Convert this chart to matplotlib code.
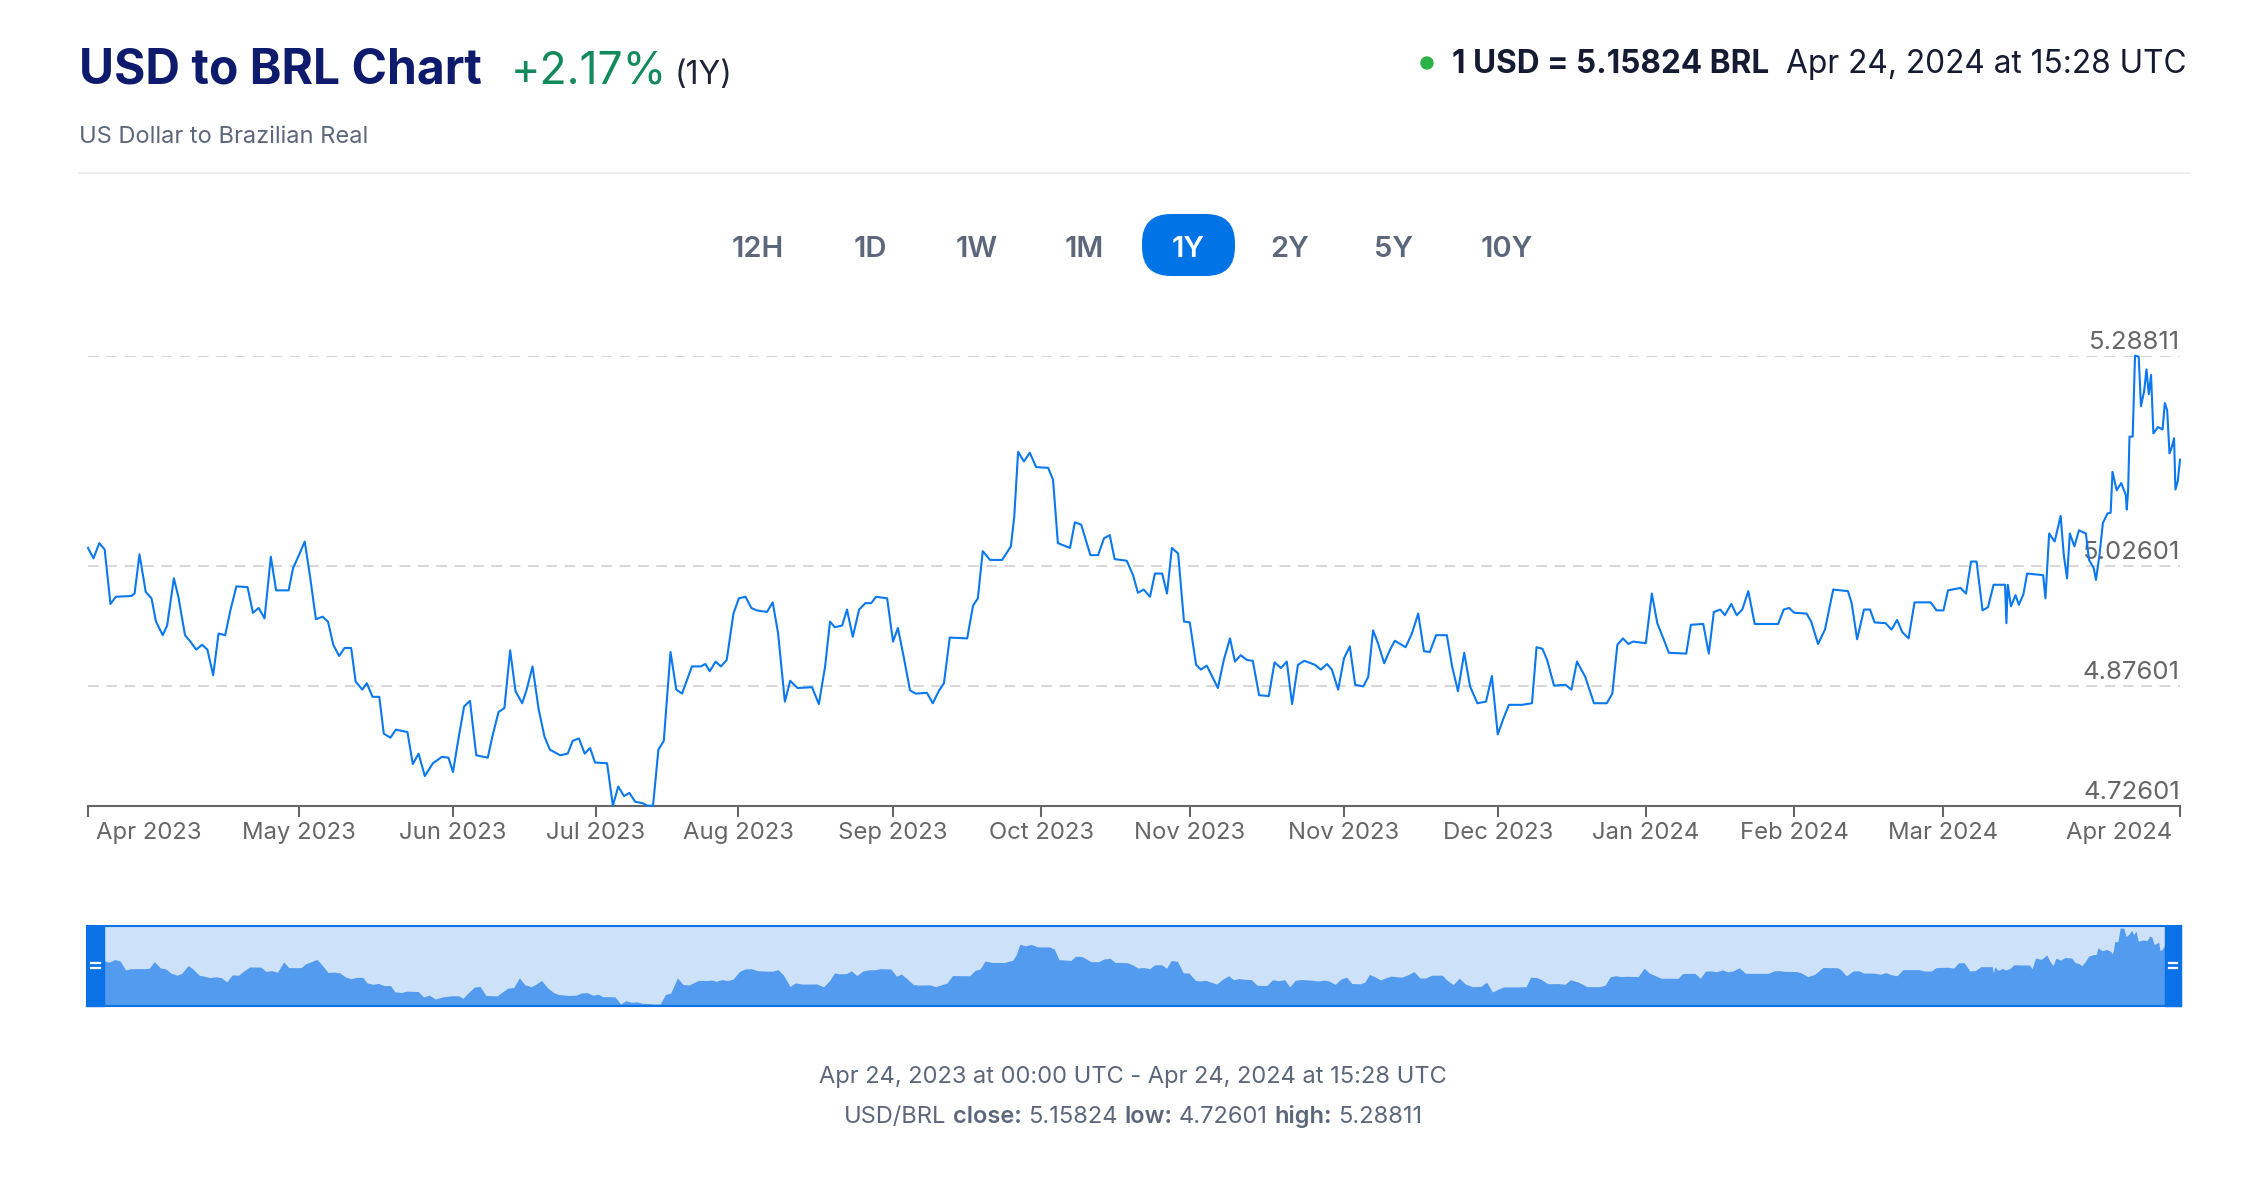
import matplotlib
matplotlib.use('Agg')
import matplotlib.pyplot as plt
from matplotlib.patches import FancyBboxPatch, Rectangle, Circle
from matplotlib.lines import Line2D
from matplotlib.transforms import ScaledTranslation

W, H = 2262, 1186
plt.rcParams['font.family'] = ['Inter', 'DejaVu Sans']

# ---- data: USD/BRL close, x = trading session index (ordinal axis) ----
session = [0.0, 0.68, 1.41, 2.08, 2.80, 3.47, 5.42, 5.81, 6.42, 7.20, 7.92, 8.48, 9.32, 9.87,
           10.71, 11.27, 12.10, 12.77, 13.49, 14.22, 14.89, 15.61, 16.28, 17.11, 17.78, 18.51,
           19.90, 20.57, 21.29, 22.02, 22.80, 23.46, 25.02, 25.58, 26.31, 27.03, 27.70, 28.42,
           29.26, 29.93, 30.59, 31.32, 31.99, 32.82, 33.38, 34.21, 34.77, 35.49, 36.33, 36.89,
           37.72, 38.39, 39.84, 40.51, 41.23, 42.01, 43.01, 44.13, 44.96, 45.52, 46.24, 46.91,
           47.64, 48.42, 49.86, 50.42, 51.20, 51.93, 52.65, 53.32, 54.15, 54.71, 55.44, 56.21,
           56.94, 57.61, 58.89, 59.83, 60.45, 61.23, 61.95, 62.62, 63.23, 64.74, 65.46, 66.13,
           66.85, 67.52, 68.24, 69.19, 69.75, 70.47, 71.14, 71.81, 72.65, 73.37, 74.09, 75.32,
           76.43, 76.99, 77.55, 78.27, 78.94, 79.66, 80.50, 81.17, 82.00, 82.73, 83.39,
           84.68, 85.40, 86.07, 86.91, 87.58, 88.49, 90.30, 91.15, 91.93, 92.54, 93.14, 94.05,
           94.66, 95.38, 96.17, 96.95, 97.68, 98.28, 99.67, 100.40, 101.01, 101.73, 102.52,
           103.24, 104.63, 105.36, 106.15, 106.75, 107.48, 109.65, 110.38, 110.98, 111.59,
           112.50, 114.01, 115.10, 115.52, 116.00, 116.73, 117.46, 118.24, 119.75, 120.36,
           120.96, 122.47, 123.08, 123.87, 125.02, 125.98, 126.71, 127.43, 128.04, 129.55,
           130.34, 130.94, 131.67, 132.45, 133.06, 133.97, 134.57, 135.18, 135.96, 136.69,
           137.41, 138.20, 138.80, 139.53, 140.13, 140.92, 141.65, 142.43, 143.04, 143.76,
           144.55, 145.27, 146.06, 147.27, 147.98, 148.78, 149.51, 150.17, 150.90, 151.69,
           153.02, 153.74, 154.53, 155.13, 155.92, 156.64, 157.37, 158.04, 159.06, 159.67,
           160.27, 160.88, 161.66, 162.39, 162.99, 164.33, 165.11, 165.90, 166.62, 167.35,
           168.13, 169.47, 170.13, 170.86, 171.64, 172.37, 173.28, 174.36, 175.09, 175.82,
           176.53, 177.22, 178.83, 180.09, 180.66, 181.40, 181.98, 182.84, 184.27, 185.01,
           185.70, 186.73, 187.82, 189.42, 190.11, 190.74, 191.43, 192.11, 192.69, 194.29,
           195.04, 195.72, 196.47, 197.16, 199.33, 199.91, 201.45, 202.14, 202.77, 203.57,
           204.14, 204.95, 205.63, 206.32, 207.07, 207.87, 210.79, 211.48, 212.16, 212.80,
           214.34, 214.91, 215.77, 216.63, 217.66, 219.50, 219.96, 220.64, 221.50, 222.25,
           222.82, 224.19, 224.94, 225.63, 226.26, 227.06, 227.80, 229.81, 230.55, 231.41,
           231.98, 233.53, 234.22, 234.85, 235.54, 236.28, 236.97, 237.66, 239.09, 239.26,
           239.43, 239.83, 240.40, 240.81, 241.38, 241.84, 243.84, 244.13, 244.59, 245.28,
           246.02, 246.42, 246.82, 247.17, 247.74, 248.31, 249.17, 249.57, 250.15, 250.43,
           250.89, 251.29, 251.86, 252.26, 252.49, 253.01, 253.58, 254.15, 254.27, 254.44,
           254.61, 255.01, 255.30, 255.76, 256.04, 256.44, 256.73, 257.02, 257.30, 257.59,
           258.16, 258.74, 259.02, 259.31, 259.60, 259.89, 260.17, 260.34, 260.63, 260.91]
usd_brl = [5.048, 5.035, 5.054, 5.046, 4.978, 4.987, 4.988, 4.991, 5.040, 4.993, 4.985, 4.956,
           4.939, 4.951, 5.010, 4.987, 4.939, 4.931, 4.921, 4.927, 4.921, 4.889, 4.941, 4.939,
           4.971, 5.000, 4.999, 4.967, 4.973, 4.960, 5.037, 4.995, 4.995, 5.023, 5.039, 5.056,
           5.012, 4.959, 4.962, 4.956, 4.927, 4.913, 4.923, 4.923, 4.881, 4.871, 4.879, 4.862,
           4.862, 4.816, 4.811, 4.821, 4.818, 4.778, 4.791, 4.763, 4.779, 4.787, 4.786, 4.768,
           4.812, 4.850, 4.857, 4.789, 4.786, 4.812, 4.843, 4.848, 4.920, 4.869, 4.854, 4.871,
           4.900, 4.846, 4.812, 4.796, 4.789, 4.791, 4.807, 4.810, 4.791, 4.798, 4.780, 4.779,
           4.726, 4.750, 4.738, 4.742, 4.731, 4.729, 4.72601, 4.72601, 4.796, 4.807, 4.918,
           4.871, 4.866, 4.900, 4.900, 4.903, 4.894, 4.906, 4.900, 4.908, 4.966, 4.985, 4.987,
           4.973, 4.970,
           4.968, 4.980, 4.941, 4.856, 4.882, 4.873, 4.874, 4.853, 4.900, 4.956, 4.949, 4.951,
           4.971, 4.937, 4.971, 4.979, 4.979, 4.987, 4.985, 4.931, 4.948, 4.912, 4.870, 4.866,
           4.867, 4.854, 4.870, 4.879, 4.936, 4.935, 4.976, 4.985, 5.044, 5.033, 5.033, 5.050,
           5.087, 5.168, 5.156, 5.167, 5.149, 5.148, 5.133, 5.054, 5.048, 5.080, 5.077, 5.039,
           5.039, 5.060, 5.064, 5.034, 5.032, 5.014, 4.992, 4.996, 4.987, 5.016, 5.016, 4.991,
           5.048, 5.041, 4.956, 4.955, 4.902, 4.896, 4.901, 4.889, 4.873, 4.908, 4.935, 4.906,
           4.914, 4.908, 4.907, 4.864, 4.863, 4.905, 4.898, 4.906, 4.853, 4.902, 4.907, 4.902,
           4.896, 4.903, 4.896, 4.871, 4.910, 4.925, 4.877, 4.875, 4.887, 4.945, 4.929, 4.904,
           4.921, 4.932, 4.924, 4.941, 4.966, 4.919, 4.918, 4.939, 4.939, 4.900, 4.869, 4.917,
           4.875, 4.854, 4.856, 4.888, 4.815,
           4.835, 4.852, 4.852, 4.854, 4.924, 4.922, 4.908, 4.876, 4.877, 4.871, 4.906, 4.887,
           4.854, 4.854, 4.866, 4.927, 4.935, 4.928, 4.931, 4.929, 4.991, 4.954, 4.935, 4.917,
           4.916, 4.952, 4.953, 4.916, 4.968, 4.971, 4.964, 4.978, 4.964, 4.971, 4.994, 4.953,
           4.953, 4.971, 4.973, 4.967, 4.966, 4.956, 4.928, 4.946, 4.996, 4.994, 4.979, 4.934,
           4.971, 4.971, 4.955, 4.954, 4.946, 4.958, 4.943, 4.935, 4.980, 4.980, 4.970, 4.970,
           4.995, 4.998, 4.991, 5.031, 5.031, 4.970, 4.974, 5.002, 5.002, 4.954, 5.002, 4.975,
           4.989, 4.977, 4.990, 5.016, 5.014, 4.985, 5.066, 5.056, 5.088, 5.039, 5.010, 5.066,
           5.050, 5.070, 5.066, 5.033, 5.023, 5.008, 5.041, 5.079, 5.091, 5.092, 5.143, 5.120,
           5.129, 5.114, 5.096, 5.120, 5.187, 5.187, 5.28811, 5.287, 5.225, 5.244, 5.271, 5.240,
           5.264, 5.191, 5.199, 5.196, 5.229, 5.220, 5.166, 5.174, 5.185, 5.121, 5.131, 5.15824]

x_ticks = [0, 26.36, 45.53, 63.34, 81.11, 100.40, 118.90, 137.40, 156.65, 175.86,
           194.30, 212.80, 231.30, 260.91]
x_labels = ['Apr 2023', 'May 2023', 'Jun 2023', 'Jul 2023', 'Aug 2023', 'Sep 2023',
            'Oct 2023', 'Nov 2023', 'Nov 2023', 'Dec 2023', 'Jan 2024', 'Feb 2024',
            'Mar 2024', 'Apr 2024']
y_ticks = [4.72601, 4.87601, 5.02601, 5.28811]
periods = ['12H', '1D', '1W', '1M', '1Y', '2Y', '5Y', '10Y']
active_period = '1Y'
close, low, high = 5.15824, 4.72601, 5.28811

LINE = '#0a78ee'
NAVY = '#0e1a6b'
GREEN = '#138a5c'
GREY_TXT = '#5d677b'
AXIS_GREY = '#666666'


def fx(x):
    return x / W


def fy(y):
    return 1 - y / H


fig = plt.figure(figsize=(W / 100, H / 100), dpi=100)

# ---- header ----
fig.text(fx(79), fy(84), 'USD to BRL Chart', fontsize=34.5, fontweight='bold', color=NAVY, va='baseline')
fig.text(fx(511), fy(84), '+2.17%', fontsize=32, color=GREEN, va='baseline')
fig.text(fx(675), fy(84), '(1Y)', fontsize=23, color='#1d2435', va='baseline')
fig.text(fx(79), fy(143), 'US Dollar to Brazilian Real', fontsize=17, color=GREY_TXT, va='baseline')
fig.patches.append(Circle((1427 / 100, (H - 63) / 100), 0.06, transform=fig.dpi_scale_trans,
                          color='#2db24a'))
fig.text(fx(1769), fy(73), '1 USD = %.5f BRL' % close, fontsize=22.7, fontweight='bold',
         color='#151b33', ha='right', va='baseline')
fig.text(fx(2187), fy(73), 'Apr 24, 2024 at 15:28 UTC', fontsize=22.8, color='#151b33',
         ha='right', va='baseline')
fig.add_artist(Line2D([fx(79), fx(2190)], [fy(173), fy(173)], color='#e9ebef', lw=1.2))

# ---- range buttons ----
btn_x = [757.6, 870, 977, 1084, 1188, 1290, 1394, 1507]
for p, bx in zip(periods, btn_x):
    col = GREY_TXT
    if p == active_period:
        fig.patches.append(FancyBboxPatch((1142 / 100, (H - 276) / 100), 0.93, 0.62,
                                          boxstyle='round,pad=0,rounding_size=0.29',
                                          transform=fig.dpi_scale_trans, fc='#0073e6', ec='none'))
        col = 'white'
    fig.text(fx(bx), fy(257), p, fontsize=21, fontweight='semibold', color=col,
             ha='center', va='baseline')

# ---- main chart ----
ax = fig.add_axes([fx(88), fy(805.7), fx(2180) - fx(88), fy(355.7) - fy(805.7)])
ax.plot(session, usd_brl, color=LINE, lw=1.5, clip_on=False, solid_joinstyle='round', zorder=3)
ax.set_xlim(0, session[-1])
ax.set_ylim(y_ticks[0], y_ticks[-1])
for sp in ['top', 'left', 'right']:
    ax.spines[sp].set_visible(False)
ax.spines['bottom'].set_color(AXIS_GREY)
ax.spines['bottom'].set_linewidth(1.5)
ax.set_axisbelow(True)
ax.grid(axis='y', color='#cccccc', lw=1.1, ls=(0, (7, 5)))

ax.set_yticks(y_ticks)
ax.set_yticklabels(['%.5f' % v for v in y_ticks])
ax.yaxis.tick_right()
ax.tick_params(axis='y', length=0, pad=0, labelsize=18.5, labelcolor=AXIS_GREY)
for lbl in ax.get_yticklabels():
    lbl.set_ha('right')
    lbl.set_va('bottom')
    lbl.set_transform(lbl.get_transform() + ScaledTranslation(0, 2 / 100, fig.dpi_scale_trans))

ax.set_xticks(x_ticks)
ax.set_xticklabels(x_labels)
ax.tick_params(axis='x', length=8, width=1.5, color=AXIS_GREY, labelsize=17.2,
               labelcolor=AXIS_GREY, pad=4)
xl = ax.get_xticklabels()
xl[0].set_ha('left')
xl[0].set_transform(xl[0].get_transform() + ScaledTranslation(8 / 100, 0, fig.dpi_scale_trans))
xl[-1].set_ha('right')
xl[-1].set_transform(xl[-1].get_transform() + ScaledTranslation(-8 / 100, 0, fig.dpi_scale_trans))

# ---- navigator ----
nav = fig.add_axes([fx(87), fy(1006), fx(2181) - fx(87), fy(926) - fy(1006)])
nav.set_facecolor('#cde1f8')
pps = (2164.5 - 103.5) / session[-1]
nav.set_xlim(-(103.5 - 87) / pps, session[-1] + (2181 - 2164.5) / pps)
nav.set_ylim(low - 0.015, high + 0.015)
nav.fill_between(session, usd_brl, low - 0.015, color='#539bef', lw=0)
nav.set_xticks([])
nav.set_yticks([])
for sp in nav.spines.values():
    sp.set_color('#0a72e6')
    sp.set_linewidth(1.5)
for hx0, hx1 in [(87, 103.5), (2164.5, 2181)]:
    fig.patches.append(Rectangle((fx(hx0), fy(1006)), fx(hx1) - fx(hx0), fy(926) - fy(1006),
                                 transform=fig.transFigure, color='#0a72e6', zorder=5))
    for yy in (963, 968):
        fig.add_artist(Line2D([fx(hx0 + 4), fx(hx1 - 4)], [fy(yy), fy(yy)], color='white',
                              lw=1.6, zorder=6))

# ---- footer ----
fig.text(fx(1133), fy(1083), 'Apr 24, 2023 at 00:00 UTC - Apr 24, 2024 at 15:28 UTC',
         fontsize=17, color=GREY_TXT, ha='center', va='baseline')

runs = [('USD/BRL', 'normal'), ('close:', 'semibold'), ('%.5f' % close, 'normal'),
        ('low:', 'semibold'), ('%.5f' % low, 'normal'), ('high:', 'semibold'),
        ('%.5f' % high, 'normal')]
r = fig.canvas.get_renderer()


def text_w(s, w):
    t = fig.text(0, 0, s, fontsize=17, fontweight=w)
    wd = t.get_window_extent(r).width
    t.remove()
    return wd


space = text_w('x x', 'normal') - text_w('xx', 'normal')
widths = [text_w(s, w) for s, w in runs]
total = sum(widths) + space * (len(runs) - 1)
cur = 1133 - total / 2
for (s, w), wd in zip(runs, widths):
    fig.text(fx(cur), fy(1123), s, fontsize=17, fontweight=w, color=GREY_TXT, va='baseline')
    cur += wd + space

fig.savefig('out.png', dpi=100)
